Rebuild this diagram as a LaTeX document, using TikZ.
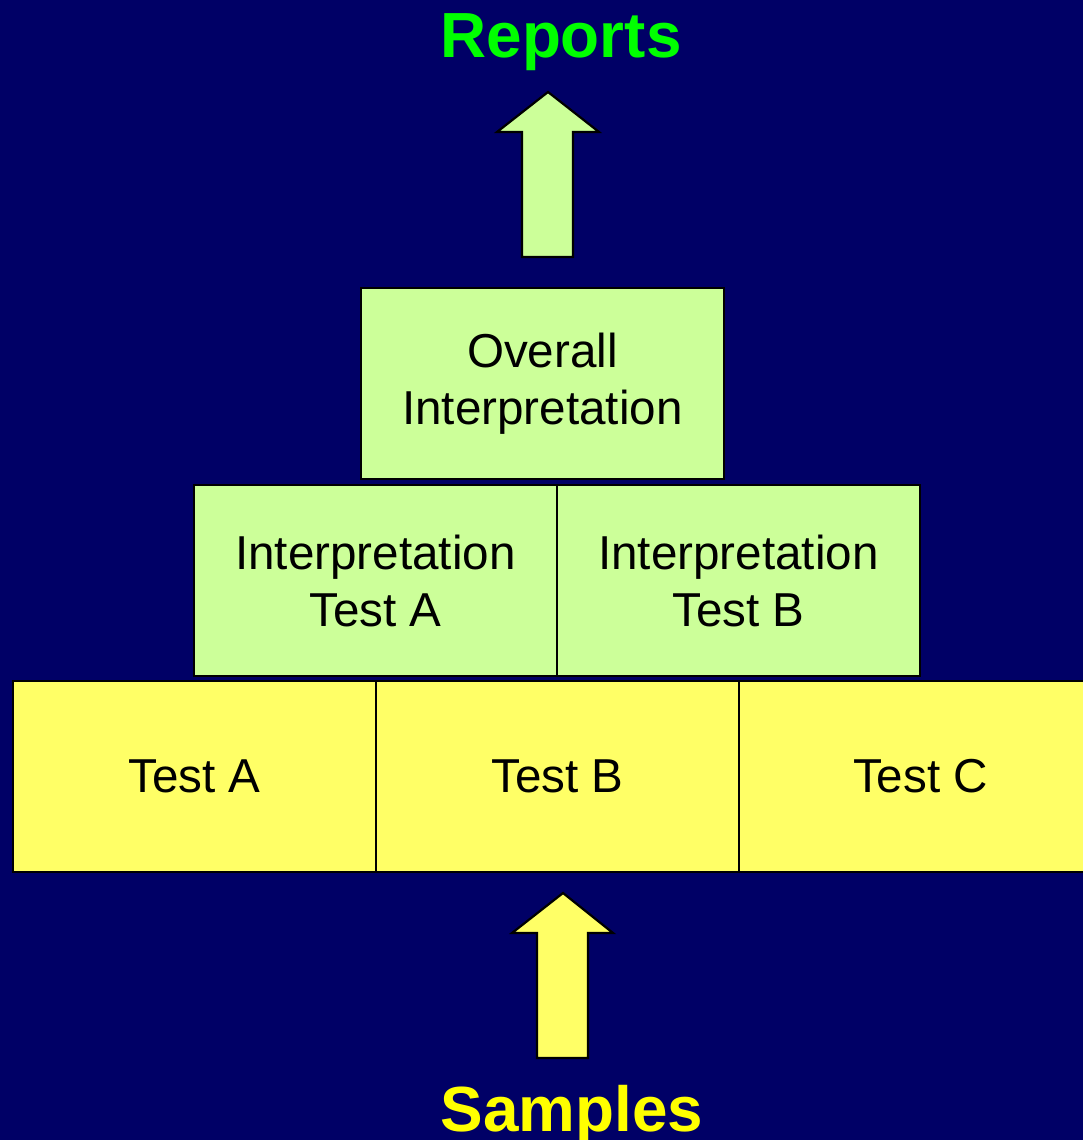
\documentclass[tikz,border=0pt]{standalone}
\usepackage{fontspec}
\setmainfont{Liberation Sans}
\begin{document}
\begin{tikzpicture}[x=1pt,y=-1pt,
  every node/.style={inner sep=0pt, outer sep=0pt},
  block/.style={draw=black, line width=1.6pt, rectangle, anchor=north west,
    minimum width=363pt, minimum height=191pt, align=center,
    font=\fontsize{47.6}{57}\selectfont, text=black},
  interp/.style={block, fill=boxgreen},
  test/.style={block, fill=boxyellow},
  fatarrow/.style={draw=black, line width=2.2pt, line join=miter},
  title/.style={font=\fontsize{63.8}{64}\selectfont\bfseries, anchor=base}]
\definecolor{navy}{RGB}{0,0,102}
\definecolor{boxgreen}{RGB}{204,255,153}
\definecolor{boxyellow}{RGB}{255,255,102}
\definecolor{repgreen}{RGB}{0,255,0}
\definecolor{samyellow}{RGB}{255,255,0}
\useasboundingbox (0,0) rectangle (1083,1140);
\fill[navy] (0,0) rectangle (1083,1140);
\begin{scope}
\clip (0,0) rectangle (1083,1140);
% bottom row of tests
\node[test] (ta) at (13,681) {\rule{0pt}{4pt}Test A};
\node[test] (tb) at (ta.north east) {\rule{0pt}{4pt}Test B};
\node[test] (tc) at (tb.north east) {\rule{0pt}{4pt}Test C};
% interpretation of single tests
\node[interp] (ia) at (194,485) {\rule{0pt}{4pt}Interpretation\\Test A};
\node[interp] (ib) at (ia.north east) {\rule{0pt}{4pt}Interpretation\\Test B};
% overall interpretation
\node[interp] (ov) at (361,288) {\rule{0pt}{4pt}Overall\\Interpretation};
\end{scope}
% arrow into the tests
\fill[boxyellow] (537,1058) -- (537,933) -- (512,933) -- (563,893) -- (613,933) -- (588,933) -- (588,1058) -- cycle;
\draw[fatarrow] (537,1058) -- (537,933) -- (512,933) -- (563,893) -- (613,933) -- (588,933) -- (588,1058) -- cycle;
% arrow out of the overall interpretation
\fill[boxgreen] (522,257) -- (522,132) -- (497,132) -- (548,92) -- (599,132) -- (573,132) -- (573,257) -- cycle;
\draw[fatarrow] (522,257) -- (522,132) -- (497,132) -- (548,92) -- (599,132) -- (573,132) -- (573,257) -- cycle;
% titles
\node[title, text=repgreen] (rep) at (561,58) {Reports};
\node[title, text=samyellow] (sam) at (572,1131) {Samples};
\end{tikzpicture}
\end{document}
